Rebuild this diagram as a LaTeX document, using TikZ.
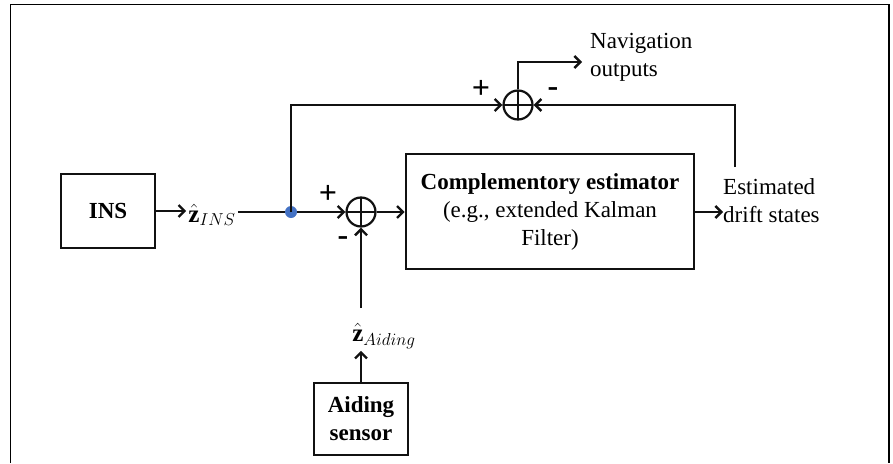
\documentclass[tikz,border=0pt]{standalone}
\usepackage{fontspec}
\setmainfont{Liberation Serif}
\usepackage{amsmath}
\usetikzlibrary{positioning,arrows.meta}
\definecolor{ink}{HTML}{111111}
\definecolor{tap}{HTML}{4472C4}
\definecolor{frame}{HTML}{000000}

\tikzset{
  blockbox/.style={draw=ink,line width=2.6pt,inner sep=2pt,align=center},
  sumnode/.style={circle,draw=ink,line width=2.2pt,minimum size=29pt,inner sep=0pt,
    path picture={\draw[ink,line width=2.2pt]
      (path picture bounding box.north) -- (path picture bounding box.south)
      (path picture bounding box.west) -- (path picture bounding box.east);}},
  flow/.style={draw=ink,line width=2.4pt,-{Straight Barb[length=6pt,width=12pt,line width=2.4pt]}},
  wire/.style={draw=ink,line width=2.4pt},
  sign/.style={font=\fontsize{32}{32}\selectfont\bfseries,inner sep=0pt},
}

\begin{document}
\begin{tikzpicture}[x=1pt,y=-1pt,font=\fontsize{23}{28}\selectfont]
    \useasboundingbox (0,0) rectangle (893,463);
    \draw[draw=frame,line width=1.8pt] (10.5,463) |- (889,4.5) -- (889,463);

    % blocks
    \node[blockbox,minimum width=94pt,minimum height=74pt] (ins) at (108,211) {\textbf{INS}};
    \node[blockbox,minimum width=288pt,minimum height=115pt] (est) at (550,211.5)
      {\textbf{Complementory estimator}\\(e.g., extended Kalman\\Filter)};
    \node[blockbox,minimum width=94pt,minimum height=72pt] (aid) at (361,419)
      {\textbf{Aiding}\\\textbf{sensor}};

    % summing junctions and the branch point
    \node[sumnode] (sumlo) at (361,212) {};
    \node[sumnode] (sumhi) at (518,105) {};
    \node[circle,fill=tap,inner sep=0pt,minimum size=12pt] (tap) at (291,212) {};

    % signals
    \node[inner sep=2pt,font=\fontsize{25}{28}\selectfont] (zins) at (212,215) {$\hat{\mathbf{z}}_{INS}$};
    \node[inner sep=2pt,font=\fontsize{25}{28}\selectfont] (zaid) at (384,336) {$\hat{\mathbf{z}}_{Aiding}$};
    \node[anchor=west,align=left,inner sep=0pt] (drift) at (723,201) {Estimated\\drift states};
    \node[anchor=west,align=left,inner sep=0pt] (nav) at (590,57) {Navigation\\outputs};

    \foreach \n/\p/\s in {plo/{(328,194)}/+, mlo/{(343,241)}/-, phi/{(481,89)}/+, mhi/{(553,92)}/-}
      \node[sign] (\n) at \p {\s};

    \coordinate (navin) at (582,62);
    \coordinate (fb) at (735,167);
    \coordinate (aidin) at (361,308);

    \draw[flow] (ins.east) -- (ins.east -| zins.west);
    \draw[wire] (zins.east |- tap) -- (tap);
    \draw[flow] (tap) -- (sumlo.west);
    \draw[flow] (sumlo.east) -- (sumlo.east -| est.west);
    \draw[flow] (tap.center) |- (sumhi.west);
    \draw[flow] (fb) |- (sumhi.east);
    \draw[flow] (sumhi.north) |- (navin);
    \draw[flow] (est.east |- sumlo) -- (drift.west |- sumlo);
    \draw[flow] (aidin) -- (sumlo.south);
    \draw[flow] (aid.north) -- (aid.north |- zaid.south);
  \end{tikzpicture}
\end{document}
